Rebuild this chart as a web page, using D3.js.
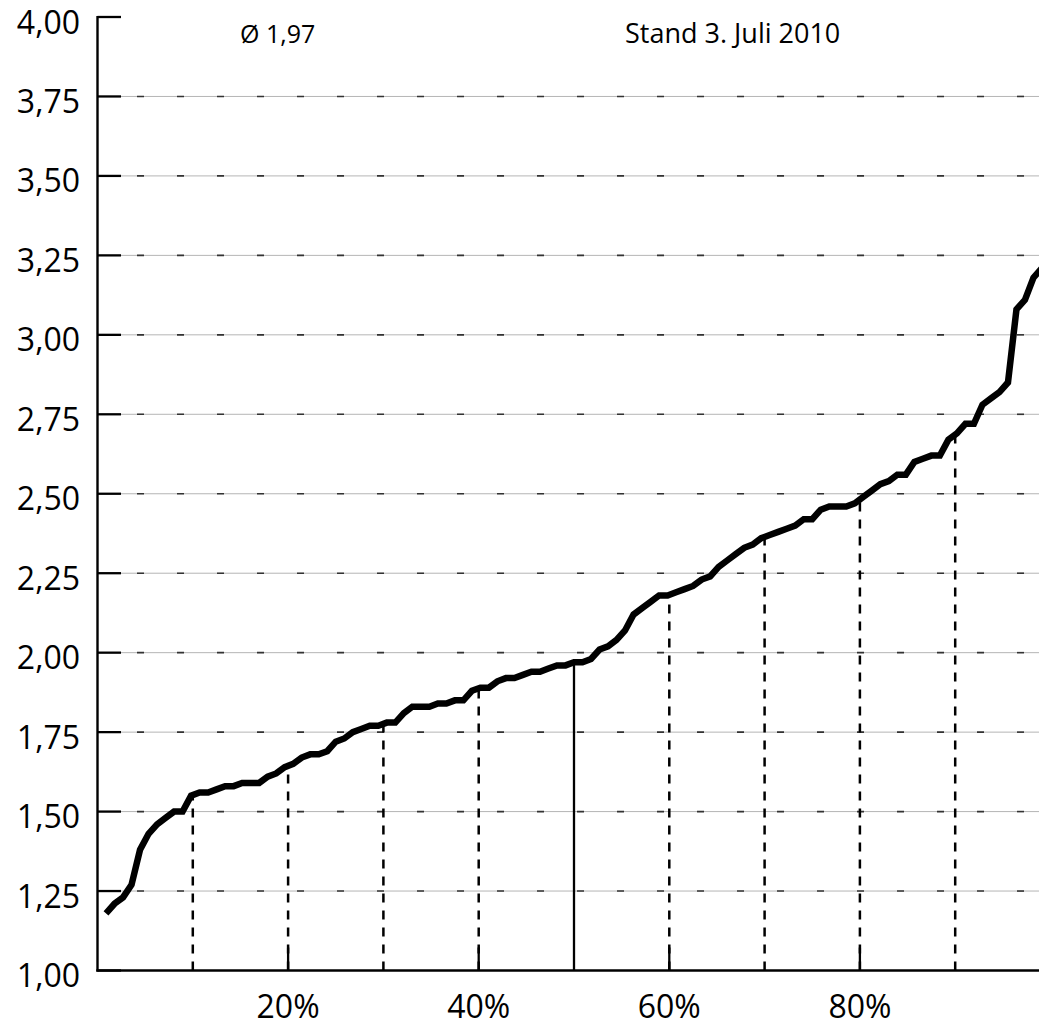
<!DOCTYPE html>
<html><head><meta charset="utf-8">
<script src="https://cdn.jsdelivr.net/npm/d3@7/dist/d3.min.js"></script>
<style>body{margin:0;background:#fff}svg{display:block}</style>
</head><body>
<svg id="c" width="1039" height="1027"></svg>
<script>
// Sorted values (rank k = 1..111 of 112)
const values = [
1.18,1.21,1.23,1.27,1.38,1.43,1.46,1.48,1.50,1.50,
1.55,1.56,1.56,1.57,1.58,1.58,1.59,1.59,1.59,1.61,
1.62,1.64,1.65,1.67,1.68,1.68,1.69,1.72,1.73,1.75,
1.76,1.77,1.77,1.78,1.78,1.81,1.83,1.83,1.83,1.84,
1.84,1.85,1.85,1.88,1.89,1.89,1.91,1.92,1.92,1.93,
1.94,1.94,1.95,1.96,1.96,1.97,1.97,1.98,2.01,2.02,
2.04,2.07,2.12,2.14,2.16,2.18,2.18,2.19,2.20,2.21,
2.23,2.24,2.27,2.29,2.31,2.33,2.34,2.36,2.37,2.38,
2.39,2.40,2.42,2.42,2.45,2.46,2.46,2.46,2.47,2.49,
2.51,2.53,2.54,2.56,2.56,2.60,2.61,2.62,2.62,2.67,
2.69,2.72,2.72,2.78,2.80,2.82,2.85,3.08,3.11,3.18,
3.21
];
const totalCount = 112;
const yTicks = [1.00,1.25,1.50,1.75,2.00,2.25,2.50,2.75,3.00,3.25,3.50,3.75,4.00];
const xLabelTicks = [20,40,60,80];
const dropPercents = [10,20,30,40,50,60,70,80,90];
const solidDrop = [50];
const meanLabel = "Ø 1,97";
const dateLabel = "Stand 3. Juli 2010";

const W = 1039, H = 1027;
const svg = d3.select("#c");
const font = "'Open Sans', 'DejaVu Sans', sans-serif";

const x = d3.scaleLinear().domain([0,100]).range([97.5, 1050.5]);
const y = d3.scaleLinear().domain([1,4]).range([970.5, 17]);

const pts = values.map((v,i)=>({p:(i+1)/totalCount*100, v}));
const interp = d3.scaleLinear().domain(pts.map(d=>d.p)).range(pts.map(d=>d.v));

const loc = d3.formatLocale({decimal:",", thousands:".", grouping:[3], currency:["","€"]});
const fmt = loc.format(".2f");

// gridlines (gray + dark dashes)
const grid = svg.append("g");
yTicks.filter(t=>t>1 && t<4).forEach(t=>{
  grid.append("line").attr("x1",121).attr("x2",W).attr("y1",y(t)).attr("y2",y(t))
    .attr("stroke","#b5b5b5").attr("stroke-width",1);
  grid.append("line").attr("x1",121).attr("x2",W).attr("y1",y(t)).attr("y2",y(t))
    .attr("stroke","#333").attr("stroke-width",1.6)
    .attr("stroke-dasharray","7,33").attr("stroke-dashoffset",24);
});

// drop lines
const drops = svg.append("g");
dropPercents.forEach(p=>{
  const solid = solidDrop.includes(p);
  drops.append("line").attr("x1",x(p)).attr("x2",x(p))
    .attr("y1",y(1)).attr("y2",y(interp(p)))
    .attr("stroke","#000").attr("stroke-width", solid?2.3:2.5)
    .attr("stroke-dasharray", solid?null:"9,8");
});
// solid x ticks
xLabelTicks.forEach(p=>{
  drops.append("line").attr("x1",x(p)).attr("x2",x(p))
    .attr("y1",y(1)).attr("y2",y(1)-23)
    .attr("stroke","#000").attr("stroke-width",2.3);
});

// axes
const ax = svg.append("g");
ax.append("line").attr("x1",97.5).attr("x2",97.5).attr("y1",y(4)-1.1).attr("y2",y(1)+1.1)
  .attr("stroke","#000").attr("stroke-width",2.4);
ax.append("line").attr("x1",96.3).attr("x2",W).attr("y1",y(1)).attr("y2",y(1))
  .attr("stroke","#000").attr("stroke-width",2.4);
yTicks.forEach(t=>{
  ax.append("line").attr("x1",97.5).attr("x2",121).attr("y1",y(t)).attr("y2",y(t))
    .attr("stroke","#000").attr("stroke-width",2.3);
  ax.append("text").attr("x",80).attr("y",y(t)+16.5).attr("text-anchor","end")
    .attr("font-family",font).attr("font-size",32).attr("fill","#000").text(fmt(t));
});
xLabelTicks.forEach(p=>{
  ax.append("text").attr("x",x(p)).attr("y",1018).attr("text-anchor","middle")
    .attr("font-family",font).attr("font-size",32).attr("fill","#000").text(p+"%");
});

// curve
const line = d3.line().x(d=>x(d.p)).y(d=>y(d.v));
svg.append("path").datum(pts).attr("d",line).attr("fill","none")
  .attr("stroke","#000").attr("stroke-width",6.5).attr("stroke-linejoin","miter");

// annotations
svg.append("text").attr("x",240).attr("y",43).attr("font-family",font).attr("font-size",25)
  .attr("fill","#000").text(meanLabel);
svg.append("text").attr("x",625).attr("y",43).attr("font-family",font).attr("font-size",27)
  .attr("fill","#000").text(dateLabel);
</script>
</body></html>
